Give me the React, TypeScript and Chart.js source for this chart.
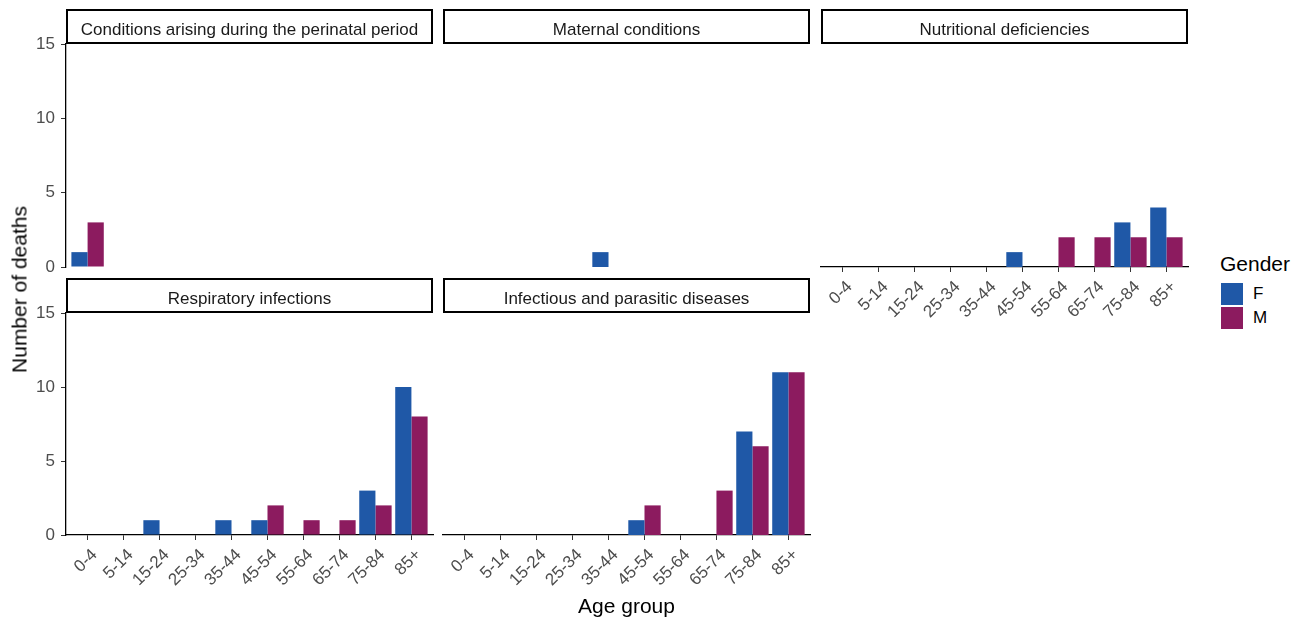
import React, { useEffect, useRef } from "react";
import { Chart, registerables } from "chart.js";

Chart.register(...registerables);

// ---------- data ----------
const AGE_GROUPS = ["0-4", "5-14", "15-24", "25-34", "35-44", "45-54", "55-64", "65-74", "75-84", "85+"];
const GENDERS = ["F", "M"];
const GENDER_COLORS = ["#1F58A7", "#8C1B5F"];
const Y_TICKS = [0, 5, 10, 15];

const PERINATAL_F = [1, 0, 0, 0, 0, 0, 0, 0, 0, 0];
const PERINATAL_M = [3, 0, 0, 0, 0, 0, 0, 0, 0, 0];
const MATERNAL_F = [0, 0, 0, 0, 1, 0, 0, 0, 0, 0];
const MATERNAL_M = [0, 0, 0, 0, 0, 0, 0, 0, 0, 0];
const NUTRITIONAL_F = [0, 0, 0, 0, 0, 1, 0, 0, 3, 4];
const NUTRITIONAL_M = [0, 0, 0, 0, 0, 0, 2, 2, 2, 2];
const RESPIRATORY_F = [0, 0, 1, 0, 1, 1, 0, 0, 3, 10];
const RESPIRATORY_M = [0, 0, 0, 0, 0, 2, 1, 1, 2, 8];
const INFECTIOUS_F = [0, 0, 0, 0, 0, 1, 0, 0, 7, 11];
const INFECTIOUS_M = [0, 0, 0, 0, 0, 2, 0, 3, 6, 11];

const PANELS = [
  { title: "Conditions arising during the perinatal period", f: PERINATAL_F, m: PERINATAL_M, col: 0, row: 0, showX: false, showY: true },
  { title: "Maternal conditions", f: MATERNAL_F, m: MATERNAL_M, col: 1, row: 0, showX: false, showY: false },
  { title: "Nutritional deficiencies", f: NUTRITIONAL_F, m: NUTRITIONAL_M, col: 2, row: 0, showX: true, showY: false },
  { title: "Respiratory infections", f: RESPIRATORY_F, m: RESPIRATORY_M, col: 0, row: 1, showX: true, showY: true },
  { title: "Infectious and parasitic diseases", f: INFECTIOUS_F, m: INFECTIOUS_M, col: 1, row: 1, showX: true, showY: false },
];

// ---------- layout ----------
const W = 1303;
const H = 619;
const FONT = '"Liberation Sans", Arial, Helvetica, sans-serif';
const COL_LEFT = [66, 443, 821];
const ROW_TOP = [44, 313];
const PLOT_W = 367;
const PLOT_H = [223, 222];
const PAD_L = 60;
const PAD_R = 12;
const PAD_T = 40;
const PAD_B = 75;
const STRIP_H = 35;
const X_EXPAND = 0.6;

const stripPlugin = {
  id: "strip",
  afterDraw(chart: any, _args: any, opts: any) {
    const { ctx, chartArea } = chart;
    const left = chartArea.left;
    const right = chartArea.right;
    const top = chartArea.top - STRIP_H;
    const w = right - left;
    ctx.save();
    ctx.fillStyle = "#ffffff";
    ctx.fillRect(left, top, w, STRIP_H);
    ctx.strokeStyle = "#000000";
    ctx.lineWidth = 2;
    ctx.strokeRect(left + 1, top + 1, w - 2, STRIP_H - 2);
    ctx.fillStyle = "#1A1A1A";
    ctx.font = `17px ${FONT}`;
    ctx.textAlign = "center";
    ctx.textBaseline = "alphabetic";
    ctx.fillText(opts.text, (left + right) / 2, top + 25.5);
    ctx.restore();
  },
};

function Panel(props: any) {
  const { panel } = props;
  const ref = useRef<HTMLCanvasElement | null>(null);
  const plotH = PLOT_H[panel.row];
  const cw = PLOT_W + PAD_L + PAD_R;
  const ch = plotH + PAD_T + PAD_B;
  const left = COL_LEFT[panel.col] - PAD_L;
  const top = ROW_TOP[panel.row] - PAD_T;

  useEffect(() => {
    if (!ref.current) return;
    const series = [panel.f, panel.m];
    const chart = new Chart(ref.current, {
      type: "bar",
      data: {
        datasets: GENDERS.map((g, gi) => ({
          label: g,
          data: series[gi].map((v: number, i: number) => ({ x: i, y: v })),
          backgroundColor: GENDER_COLORS[gi],
          borderWidth: 0,
          categoryPercentage: 0.9,
          barPercentage: 1.0,
        })),
      },
      options: {
        responsive: false,
        animation: false,
        events: [],
        layout: {
          padding: {
            left: panel.showY ? 0 : PAD_L,
            right: PAD_R,
            top: PAD_T,
            bottom: panel.showX ? 0 : PAD_B,
          },
        },
        plugins: {
          legend: { display: false },
          tooltip: { enabled: false },
          strip: { text: panel.title },
        } as any,
        scales: {
          x: {
            type: "linear",
            offset: false,
            min: -X_EXPAND,
            max: AGE_GROUPS.length - 1 + X_EXPAND,
            display: panel.showX,
            afterDataLimits: (s: any) => {
              s.min = -X_EXPAND;
              s.max = AGE_GROUPS.length - 1 + X_EXPAND;
            },
            afterBuildTicks: (s: any) => {
              s.ticks = AGE_GROUPS.map((_, i) => ({ value: i }));
            },
            afterFit: (s: any) => {
              s.height = panel.showX ? PAD_B : 0;
            },
            grid: {
              display: true,
              offset: false,
              drawOnChartArea: false,
              drawTicks: true,
              tickLength: 5,
              color: "#333333",
              lineWidth: 1,
            },
            border: { display: true, color: "#000000", width: 1.3 },
            ticks: {
              autoSkip: false,
              minRotation: 45,
              maxRotation: 45,
              labelOffset: 7,
              padding: 5,
              color: "#4D4D4D",
              font: { family: FONT, size: 17 },
              callback: (v: any) => AGE_GROUPS[Math.round(Number(v))] ?? "",
            },
          },
          y: {
            type: "linear",
            min: Y_TICKS[0],
            max: Y_TICKS[Y_TICKS.length - 1],
            display: panel.showY,
            afterBuildTicks: (s: any) => {
              s.ticks = Y_TICKS.map((v) => ({ value: v }));
            },
            afterFit: (s: any) => {
              s.width = panel.showY ? PAD_L : 0;
            },
            grid: {
              display: true,
              drawOnChartArea: false,
              drawTicks: true,
              tickLength: 5,
              color: "#333333",
              lineWidth: 1,
            },
            border: { display: true, color: "#000000", width: 1.3 },
            ticks: {
              padding: 6,
              color: "#4D4D4D",
              font: { family: FONT, size: 17 },
            },
          },
        },
      } as any,
      plugins: [stripPlugin as any],
    });
    return () => chart.destroy();
  }, [panel]);

  return (
    <canvas
      ref={ref}
      width={cw}
      height={ch}
      style={{ position: "absolute", left, top, width: cw, height: ch }}
    />
  );
}

export default function App() {
  return (
    <div
      style={{
        position: "absolute",
        left: 0,
        top: 0,
        width: W,
        height: H,
        background: "#ffffff",
        overflow: "hidden",
        fontFamily: FONT,
      }}
    >
      {PANELS.map((p, i) => (
        <Panel key={i} panel={p} />
      ))}
      {/* y axis title */}
      <div
        style={{
          position: "absolute",
          left: 19 - 150,
          top: 289.5 - 10.5,
          width: 300,
          height: 21,
          lineHeight: "21px",
          fontSize: 21,
          color: "#000",
          textAlign: "center",
          transform: "rotate(-90deg)",
          transformOrigin: "50% 50%",
          whiteSpace: "nowrap",
        }}
      >
        Number of deaths
      </div>
      {/* x axis title */}
      <div
        style={{
          position: "absolute",
          left: 626.5 - 150,
          top: 595,
          width: 300,
          height: 21,
          lineHeight: "21px",
          fontSize: 21,
          color: "#000",
          textAlign: "center",
          whiteSpace: "nowrap",
        }}
      >
        Age group
      </div>
      {/* legend */}
      <div
        style={{
          position: "absolute",
          left: 1220,
          top: 253,
          height: 21,
          lineHeight: "21px",
          fontSize: 21,
          color: "#000",
          whiteSpace: "nowrap",
        }}
      >
        Gender
      </div>
      {GENDERS.map((g, i) => (
        <React.Fragment key={g}>
          <div
            style={{
              position: "absolute",
              left: 1221,
              top: 283 + i * 24,
              width: 22,
              height: 22,
              background: GENDER_COLORS[i],
            }}
          />
          <div
            style={{
              position: "absolute",
              left: 1253,
              top: 283 + i * 24 + 2,
              height: 18,
              lineHeight: "18px",
              fontSize: 17,
              color: "#000",
              whiteSpace: "nowrap",
            }}
          >
            {g}
          </div>
        </React.Fragment>
      ))}
    </div>
  );
}
